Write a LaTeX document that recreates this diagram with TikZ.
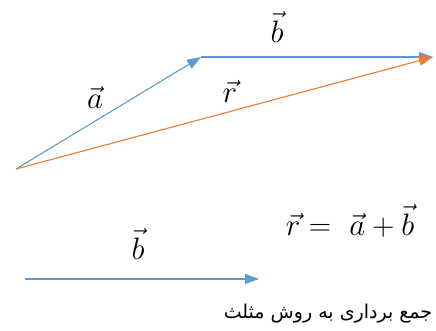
\RequirePackage{fix-cm}
\documentclass[tikz,border=0pt]{standalone}
\usepackage{fontspec}
\usetikzlibrary{arrows.meta}
\newfontfamily\arabicfont[Script=Arabic]{DejaVu Sans}
\TeXXeTstate=1
\definecolor{vblue}{HTML}{5B9BD5}
\definecolor{vorange}{HTML}{ED7D31}
\begin{document}
\begin{tikzpicture}[x=1pt,y=-1pt,
  vec/.style={line width=1.1pt,-{Triangle[length=14pt,width=10pt]}},
  lbl/.style={font=\fontsize{31}{36}\selectfont,inner sep=0pt}]
\useasboundingbox (0,0) rectangle (436,331);
\coordinate (O) at (16,169);
\coordinate (A) at (201,57);
\coordinate (B) at (433,57);
\coordinate (C1) at (25,279);
\coordinate (C2) at (259,279);
\draw[vec,vblue] (O) -- (A);
\draw[vec,vblue] (A) -- (B);
\draw[vec,vorange] (O) -- (B);
\draw[vec,vblue] (C1) -- (C2);
\node[lbl] (la) at (95,97) {$\vec a$};
\node[lbl] (lr) at (230,91) {$\vec r$};
\node[lbl] (lb) at (277,27) {$\vec b$};
\node[lbl] (lb2) at (138,244) {$\vec b$};
\node[lbl] (eq) at (350,221) {$\vec r =\ \vec a + \vec b$};
\node[inner sep=0pt,font=\arabicfont\fontsize{19}{22}\selectfont] (fa) at (328,314) {\beginR جمع برداری به روش مثلث\endR};
\end{tikzpicture}
\end{document}
